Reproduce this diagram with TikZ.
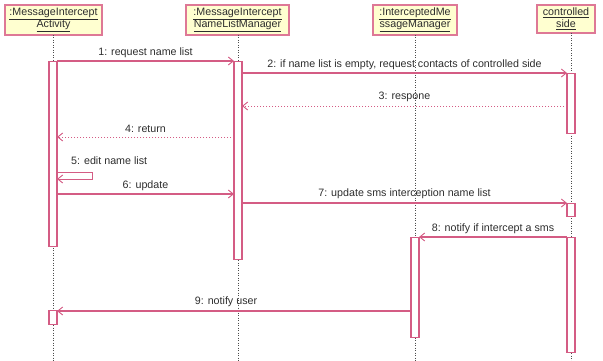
\documentclass[tikz,border=0pt]{standalone}
\usepackage{fontspec}
\setmainfont{Liberation Sans}
\usetikzlibrary{arrows.meta}
\definecolor{pinkline}{RGB}{212,92,132}
\definecolor{headline}{RGB}{222,120,150}
\definecolor{headfill}{RGB}{255,255,208}
\definecolor{txt}{RGB}{45,45,45}
\begin{document}
\begin{tikzpicture}[x=1pt,y=-1pt,
  head/.style={draw=headline,line width=1.4pt,fill=headfill,inner sep=0pt,
    font=\fontsize{10.7}{12}\selectfont,text=txt,align=center},
  bar/.style={draw=pinkline,line width=1.1pt,fill=white,minimum width=8pt,inner sep=0pt},
  life/.style={draw=black!70,line width=0.6pt,dash pattern=on 1pt off 1.5pt},
  msg/.style={draw=pinkline,line width=1.1pt,-{Straight Barb[length=5pt,width=8pt,line width=0.9pt]}},
  ret/.style={draw=pinkline,line width=0.9pt,dash pattern=on 1.2pt off 1.8pt,-{Straight Barb[length=5pt,width=8pt,line width=0.9pt]}},
  lbl/.style={font=\fontsize{10.7}{12}\selectfont,text=txt,inner sep=1pt}]
\useasboundingbox (0,0) rectangle (603,361);
% headers
\node[head,minimum width=97pt,minimum height=30pt] (h1) at (53.5,20) {\underline{:MessageIntercept}\\\underline{Activity}};
\node[head,minimum width=103pt,minimum height=30pt] (h2) at (237.5,20) {\underline{:MessageIntercept}\\\underline{NameListManager}};
\node[head,minimum width=84pt,minimum height=30pt] (h3) at (415,20) {\underline{:InterceptedMe}\\\underline{ssageManager}};
\node[head,minimum width=58pt,minimum height=28pt] (h4) at (566,19) {\underline{controlled}\\\underline{side}};
% lifeline ends
\coordinate (e1) at (53,361);
\coordinate (e2) at (238,361);
\coordinate (e3) at (415,361);
\coordinate (e4) at (571,361);
\draw[life] (53,35) -- (e1);
\draw[life] (238,35) -- (e2);
\draw[life] (415,35) -- (e3);
\draw[life] (571,33) -- (e4);
% activation bars
\node[bar,minimum height=185pt,anchor=north] (a1) at (53,61) {};
\node[bar,minimum height=14pt,anchor=north] (a1b) at (53,310) {};
\node[bar,minimum height=198pt,anchor=north] (a2) at (238,61) {};
\node[bar,minimum height=60pt,anchor=north] (a4) at (571,73) {};
\node[bar,minimum height=13pt,anchor=north] (a4b) at (571,203) {};
\node[bar,minimum height=100pt,anchor=north] (a3) at (415,237) {};
\node[bar,minimum height=115pt,anchor=north] (a4c) at (571,237) {};
% messages
\coordinate (m1s) at (57,61); \coordinate (m1e) at (234,61);
\draw[msg] (m1s) -- node[lbl,above=2pt] {1: request name list} (m1e);
\coordinate (m2s) at (242,73); \coordinate (m2e) at (567,73);
\draw[msg] (m2s) -- node[lbl,above=1.5pt] {2: if name list is empty, request contacts of controlled side} (m2e);
\coordinate (m3s) at (567,106); \coordinate (m3e) at (242,106);
\draw[ret] (m3s) -- node[lbl,above=3pt] {3: respone} (m3e);
\coordinate (m4s) at (234,137); \coordinate (m4e) at (57,137);
\draw[ret] (m4s) -- node[lbl,above=3pt] {4: return} (m4e);
\coordinate (m5a) at (57,172); \coordinate (m5b) at (92,172);
\coordinate (m5c) at (92,179); \coordinate (m5d) at (57,179);
\draw[draw=pinkline,line width=0.9pt,-{Straight Barb[length=5pt,width=8pt,line width=0.9pt]}] (m5a) -- (m5b) -- (m5c) -- (m5d);
\node[lbl,anchor=south west] (l5) at (70,166) {5: edit name list};
\coordinate (m6s) at (57,194); \coordinate (m6e) at (234,194);
\draw[msg] (m6s) -- node[lbl,above=2pt] {6: update} (m6e);
\coordinate (m7s) at (242,203); \coordinate (m7e) at (567,203);
\draw[msg] (m7s) -- node[lbl,above=3pt] {7: update sms interception name list} (m7e);
\coordinate (m8s) at (567,237); \coordinate (m8e) at (419,237);
\draw[msg] (m8s) -- node[lbl,above=2pt] {8: notify if intercept a sms} (m8e);
\coordinate (m9s) at (411,311); \coordinate (m9e) at (57,311);
\draw[msg] (m9s) -- (m9e);
\node[lbl,anchor=south] (l9) at (226,308) {9: notify user};
\end{tikzpicture}
\end{document}
